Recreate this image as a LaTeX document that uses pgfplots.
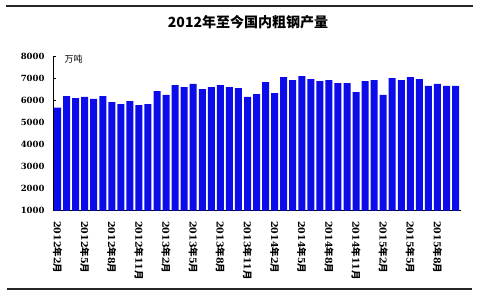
\documentclass[border=0pt]{standalone}
\usepackage{fontspec}
\setmainfont{Liberation Serif}
\newfontfamily\cjk{Noto Sans CJK SC}
\newfontfamily\numf{DejaVu Serif}
\usepackage{pgfplots}
\pgfplotsset{compat=1.18}
\definecolor{barblue}{RGB}{12,12,235}
\newcommand\ML[2]{{\numf\bfseries #1}{\cjk\bfseries 年}{\numf\bfseries #2}{\cjk\bfseries 月}}
\begin{document}
\begin{tikzpicture}
\begin{axis}[
  name=ax,
  at={(0pt,0pt)}, anchor=south west,
  scale only axis, width=408pt, height=154pt,
  xmin=-0.5, xmax=44.6, ymin=1000, ymax=8000,
  ytick={1000,2000,...,8000},
  axis x line=bottom, axis y line=left,
  axis line style={-, line width=0.8pt, black},
  tick align=inside, major tick length=3pt,
  ytick style={black, line width=0.6pt},
  xtick style={draw=none},
  xtick={0,3,...,42},
  xticklabels={\ML{2012}{2},\ML{2012}{5},\ML{2012}{8},\ML{2012}{11},
    \ML{2013}{2},\ML{2013}{5},\ML{2013}{8},\ML{2013}{11},
    \ML{2014}{2},\ML{2014}{5},\ML{2014}{8},\ML{2014}{11},
    \ML{2015}{2},\ML{2015}{5},\ML{2015}{8}},
  xticklabel style={rotate=-90, anchor=west, font=\fontsize{9.5}{11}\selectfont, xshift=4pt},
  yticklabel style={font=\numf\bfseries\fontsize{8.5}{10}\selectfont, xshift=-5pt},
  /pgf/number format/assume math mode=true,
  /pgf/number format/1000 sep={},
  ybar, bar width=7pt,
  clip=false,
]
\addplot[fill=barblue, draw=none] coordinates {
(0,5680) (1,6210) (2,6120) (3,6170) (4,6080) (5,6210) (6,5940) (7,5850) (8,5985) (9,5800)
(10,5850) (11,6440) (12,6260) (13,6710) (14,6620) (15,6760) (16,6530) (17,6620) (18,6710) (19,6620)
(20,6575) (21,6170) (22,6300) (23,6850) (24,6350) (25,7075) (26,6940) (27,7120) (28,6985) (29,6895)
(30,6940) (31,6800) (32,6800) (33,6395) (34,6895) (35,6940) (36,6260) (37,7030) (38,6940) (39,7075)
(40,6985) (41,6670) (42,6760) (43,6670) (44,6670)
};
\node[font=\cjk\fontsize{9}{10}\selectfont, anchor=west] at (axis description cs:0.02,0.985) {万吨};
\end{axis}
\useasboundingbox (-53pt,-88.3pt) rectangle (428pt,210.7pt);
\draw[line width=2pt, black!85] (-47pt,204.7pt) -- (420pt,204.7pt);
\draw[line width=2.2pt, black!85] (-46pt,-78.3pt) -- (419pt,-78.3pt);
\node[font=\cjk\bfseries\fontsize{14}{16}\selectfont] at (195pt,189pt) {2012年至今国内粗钢产量};
\end{tikzpicture}
\end{document}
